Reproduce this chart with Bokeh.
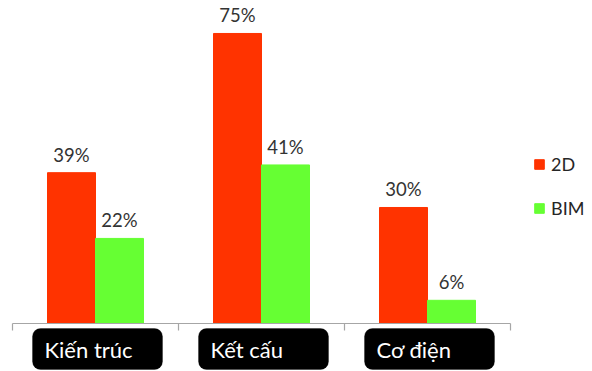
from bokeh.plotting import figure
from bokeh.models import Range1d, ColumnDataSource, Legend, LegendItem, BoxAnnotation
from bokeh.core.properties import value
from bokeh.embed import file_html
from bokeh.resources import INLINE

categories = ["Kiến trúc", "Kết cấu", "Cơ điện"]
series_names = ["2D", "BIM"]
values_2d = [39, 75, 30]
values_bim = [22, 41, 6]

RED = "#FF3300"
GREEN = "#66FF33"

W, H = 592, 371
px_per_cat = 166.0
left_px = 12.0
base_px = 323.0
px_per_pct = 3.867

p = figure(width=W, height=H, output_backend="svg", toolbar_location=None,
           min_border=0, min_border_left=0, min_border_right=0,
           min_border_top=0, min_border_bottom=0,
           x_range=Range1d(-left_px / px_per_cat, (W - left_px) / px_per_cat),
           y_range=Range1d(-(H - base_px) / px_per_pct, base_px / px_per_pct))
p.axis.visible = False
p.grid.visible = False
p.outline_line_color = None
p.background_fill_color = "white"
p.border_fill_color = "white"

idx = list(range(len(categories)))
off = 24 / px_per_cat
bw = 48 / px_per_cat
x2d = [i + 0.5 - off for i in idx]
xbim = [i + 0.5 + off for i in idx]

src2d = ColumnDataSource(dict(x=x2d, top=values_2d, lab=[f"{v}%" for v in values_2d]))
srcbim = ColumnDataSource(dict(x=xbim, top=values_bim, lab=[f"{v}%" for v in values_bim]))

r1 = p.vbar(x="x", top="top", bottom=0, width=bw, source=src2d, fill_color=RED, line_color=RED)
r2 = p.vbar(x="x", top="top", bottom=0, width=bw, source=srcbim, fill_color=GREEN, line_color=GREEN)

for s in (src2d, srcbim):
    p.text(x="x", y="top", text="lab", source=s, text_align="center", text_baseline="bottom",
           y_offset=-7, text_font=value("Lato"), text_font_size="18.5px", text_color="#333333")

# baseline axis + ticks
n = len(categories)
p.segment(x0=[0], y0=[0], x1=[n], y1=[0], line_color="#a6a6a6", line_width=1.2)
tick_len = 7 / px_per_pct
p.segment(x0=list(range(n + 1)), y0=[0] * (n + 1), x1=list(range(n + 1)), y1=[-tick_len] * (n + 1),
          line_color="#a6a6a6", line_width=1.2)

# category label boxes
box_top = -(328 - base_px) / px_per_pct
box_bot = -(369 - base_px) / px_per_pct
for i, c in enumerate(categories):
    p.add_layout(BoxAnnotation(left=i + 20 / px_per_cat, right=i + 150 / px_per_cat,
                               top=box_top, bottom=box_bot, fill_color="black", fill_alpha=1,
                               line_color="black", border_radius=8, level="underlay"))
lab_y = -(349 - base_px) / px_per_pct
p.text(x=[i + 20 / px_per_cat for i in idx], y=[lab_y] * n, text=categories,
       x_offset=12, text_align="left", text_baseline="middle",
       text_font=value("Lato"), text_font_size="22px", text_color="white")

legend = Legend(items=[LegendItem(label=series_names[0], renderers=[r1]),
                       LegendItem(label=series_names[1], renderers=[r2])],
                location=(533, 152), orientation="vertical",
                glyph_width=12, glyph_height=12, label_standoff=6, spacing=22,
                label_height=17, padding=0, margin=0, border_line_color=None,
                background_fill_alpha=0,
                label_text_font="Lato", label_text_font_size="18px", label_text_color="#262626")
p.add_layout(legend)

open("out.html", "w").write(file_html(p, INLINE))
